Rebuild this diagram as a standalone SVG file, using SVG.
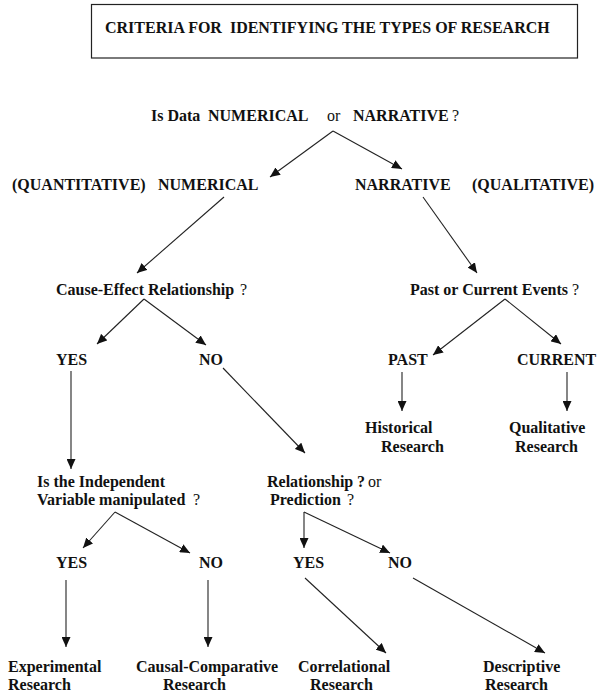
<svg xmlns="http://www.w3.org/2000/svg" width="598" height="696" viewBox="0 0 598 696">
<defs>
<style>
text{font-family:'Liberation Serif','Times New Roman',Times,Tinos,'DejaVu Serif',serif;font-size:16px;font-weight:700;fill:#111;white-space:pre}
.n{font-weight:400}
.c line{stroke:#222;stroke-width:1.1;marker-end:url(#ah)}
</style>
<marker id="ah" markerUnits="userSpaceOnUse" markerWidth="11" markerHeight="9" refX="10" refY="4.5" orient="auto">
<path d="M0,0 L10,4.5 L0,9 z" fill="#111"/>
</marker>
</defs>
<rect width="598" height="696" fill="#fff"/>
<g id="title">
<rect x="91.5" y="4.5" width="486" height="53.5" fill="none" stroke="#222" stroke-width="1.2"/>
<text x="105" y="33">CRITERIA FOR  IDENTIFYING THE TYPES OF RESEARCH</text>
</g>
<g id="q-data"><text y="121"><tspan x="151">Is Data</tspan><tspan x="208">NUMERICAL</tspan><tspan x="327" class="n">or</tspan><tspan x="353">NARRATIVE</tspan><tspan x="452" class="n">?</tspan></text></g>
<g id="numerical"><text y="190"><tspan x="12">(QUANTITATIVE)</tspan><tspan x="158">NUMERICAL</tspan></text></g>
<g id="narrative"><text y="190"><tspan x="355">NARRATIVE</tspan><tspan x="472">(QUALITATIVE)</tspan></text></g>
<g id="q-cause"><text y="295"><tspan x="56">Cause-Effect Relationship</tspan><tspan x="240" class="n">?</tspan></text></g>
<g id="q-past"><text y="295"><tspan x="410">Past or Current Events</tspan><tspan x="572" class="n">?</tspan></text></g>
<g id="yes1"><text x="56" y="365">YES</text></g>
<g id="no1"><text x="199" y="365">NO</text></g>
<g id="past"><text x="388" y="365">PAST</text></g>
<g id="current"><text x="517" y="365">CURRENT</text></g>
<g id="historical"><text x="365" y="433">Historical</text><text x="381" y="452">Research</text></g>
<g id="qualitative"><text x="509" y="433">Qualitative</text><text x="515" y="452">Research</text></g>
<g id="q-indep"><text x="37" y="487">Is the Independent</text><text y="505"><tspan x="37">Variable manipulated</tspan><tspan x="193" class="n">?</tspan></text></g>
<g id="q-rel"><text y="487"><tspan x="267">Relationship</tspan><tspan x="357">?</tspan><tspan x="368" class="n">or</tspan></text><text y="505"><tspan x="270">Prediction</tspan><tspan x="347" class="n">?</tspan></text></g>
<g id="yes2"><text x="56" y="568">YES</text></g>
<g id="no2"><text x="199" y="568">NO</text></g>
<g id="yes3"><text x="293" y="568">YES</text></g>
<g id="no3"><text x="388" y="568">NO</text></g>
<g id="experimental"><text x="8" y="672">Experimental</text><text x="8" y="690">Research</text></g>
<g id="causal"><text x="136" y="672">Causal-Comparative</text><text x="163" y="690">Research</text></g>
<g id="correlational"><text x="298" y="672">Correlational</text><text x="310" y="690">Research</text></g>
<g id="descriptive"><text x="483" y="672">Descriptive</text><text x="485" y="690">Research</text></g>
<g id="connectors" class="c">
<line x1="333" y1="131" x2="270" y2="177"/>
<line x1="333" y1="131" x2="402" y2="169"/>
<line x1="224" y1="197" x2="137" y2="273"/>
<line x1="423" y1="197" x2="477" y2="273"/>
<line x1="144" y1="299" x2="97" y2="344"/>
<line x1="144" y1="299" x2="206" y2="345"/>
<line x1="505" y1="299" x2="433" y2="355"/>
<line x1="505" y1="299" x2="561" y2="344"/>
<line x1="402" y1="372" x2="402" y2="411"/>
<line x1="567" y1="372" x2="567" y2="411"/>
<line x1="71" y1="371" x2="71" y2="469"/>
<line x1="223" y1="368" x2="305" y2="453"/>
<line x1="115" y1="512" x2="83" y2="548"/>
<line x1="115" y1="512" x2="190" y2="553"/>
<line x1="304" y1="512" x2="304" y2="548"/>
<line x1="304" y1="512" x2="390" y2="553"/>
<line x1="66" y1="580" x2="66" y2="647"/>
<line x1="208" y1="580" x2="208" y2="647"/>
<line x1="305" y1="578" x2="386" y2="653"/>
<line x1="413" y1="578" x2="545" y2="653"/>
</g>
</svg>
